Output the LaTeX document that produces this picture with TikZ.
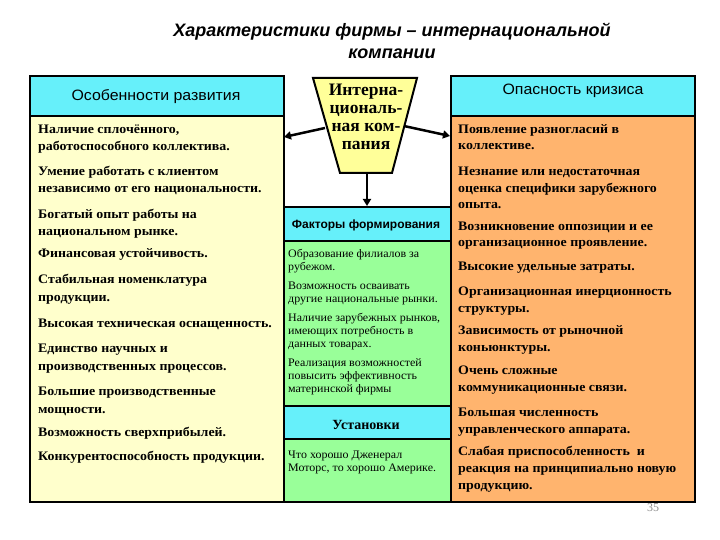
\documentclass[tikz,border=0pt]{standalone}
\usepackage{fontspec}
\setmainfont{Liberation Serif}
\setsansfont{Liberation Sans}
\newfontfamily\wideserif[FakeStretch=1.07]{Liberation Serif}
\newfontfamily\midserif[FakeStretch=1.04]{Liberation Serif}
\newfontfamily\widesans[FakeStretch=1.06]{Liberation Sans}
\usetikzlibrary{arrows.meta}
\definecolor{hdr}{RGB}{102,240,250}
\definecolor{ylw}{RGB}{255,255,204}
\definecolor{trap}{RGB}{255,255,153}
\definecolor{grn}{RGB}{153,255,153}
\definecolor{org}{RGB}{255,180,110}
\begin{document}
\begin{tikzpicture}[x=1pt,y=-1pt,
  panel/.style={draw=black, line width=2pt, anchor=north west, inner sep=0pt, outer sep=0pt},
  bodytxt/.style={anchor=base west, inner sep=0pt, align=left, font=\wideserif\fontsize{13}{17.5}\selectfont\bfseries},
  rbodytxt/.style={anchor=base west, inner sep=0pt, align=left, font=\wideserif\fontsize{13}{16.8}\selectfont\bfseries},
  midtxt/.style={anchor=base west, inner sep=0pt, align=left, font=\midserif\fontsize{11.5}{12.8}\selectfont},
  hdrtxt/.style={inner sep=0pt, font=\widesans\fontsize{15}{17}\selectfont},
  arr/.style={line width=2.5pt, -{Triangle[length=7pt,width=8pt]}}
]
\useasboundingbox (0,0) rectangle (720,540);

% title
\node[align=center, font=\sffamily\bfseries\itshape\fontsize{18}{22}\selectfont] (title) at (392,41)
  {Характеристики фирмы – интернациональной\\компании};

% panels
\node[panel, fill=hdr, minimum width=254pt, minimum height=40pt] (lhead) at (30,76) {};
\node[panel, fill=ylw, minimum width=254pt, minimum height=386pt] (lbody) at (30,116) {};
\node[panel, fill=hdr, minimum width=244pt, minimum height=40pt] (rhead) at (451,76) {};
\node[panel, fill=org, minimum width=244pt, minimum height=386pt] (rbody) at (451,116) {};
\node[panel, fill=hdr, minimum width=167pt, minimum height=34pt] (fhead) at (284,207) {};
\node[panel, fill=grn, minimum width=167pt, minimum height=165pt] (fbody) at (284,241) {};
\node[panel, fill=hdr, minimum width=167pt, minimum height=33pt] (uhead) at (284,406) {};
\node[panel, fill=grn, minimum width=167pt, minimum height=63pt] (ubody) at (284,439) {};

% header texts
\node[hdrtxt] (lht) at (156,97) {Особенности развития};
\node[hdrtxt] (rht) at (573,91) {Опасность кризиса};
\node[inner sep=0pt, font=\sffamily\bfseries\fontsize{12}{14}\selectfont] (fht) at (366,225) {Факторы формирования};
\node[inner sep=0pt, font=\bfseries\fontsize{14}{16}\selectfont] (uht) at (366,425) {Установки};

% trapezoid
\coordinate (ttl) at (313,78);
\coordinate (ttr) at (417,78);
\coordinate (tbr) at (392,173);
\coordinate (tbl) at (340,173);
\draw[line width=2pt, fill=trap] (ttl) -- (ttr) -- (tbr) -- (tbl) -- cycle;
\node[align=center, inner sep=0pt, font=\bfseries\fontsize{17.5}{18}\selectfont] (ic) at (366,117)
  {Интерна-\\циональ-\\ная ком-\\пания};

% arrows
\coordinate (aLs) at (325,128);
\coordinate (aLe) at (284,137);
\coordinate (aRs) at (404,126);
\coordinate (aRe) at (450,136);
\coordinate (aDs) at (367,173);
\coordinate (aDe) at (367,206);
\draw[arr] (aLs) -- (aLe);
\draw[arr] (aRs) -- (aRe);
\draw[arr] (aDs) -- (aDe);

% left texts (positions = baseline of last line)
\node[bodytxt] (l1) at (38,151) {Наличие сплочённого,\\работоспособного коллектива.};
\node[bodytxt] (l2) at (38,193) {Умение работать с клиентом\\независимо от его национальности.};
\node[bodytxt] (l3) at (38,236) {Богатый опыт работы на\\национальном рынке.};
\node[bodytxt] (l4) at (38,258) {Финансовая устойчивость.};
\node[bodytxt] (l5) at (38,301) {Стабильная номенклатура\\продукции.};
\node[bodytxt] (l6) at (38,327) {Высокая техническая оснащенность.};
\node[bodytxt] (l7) at (38,370) {Единство научных и\\производственных процессов.};
\node[bodytxt] (l8) at (38,413) {Большие производственные\\мощности.};
\node[bodytxt] (l9) at (38,436) {Возможность сверхприбылей.};
\node[bodytxt] (l10) at (38,460) {Конкурентоспособность продукции.};

% right texts
\node[rbodytxt] (r1) at (458,150) {Появление разногласий в\\коллективе.};
\node[rbodytxt] (r2) at (458,209) {Незнание или недостаточная\\оценка специфики зарубежного\\опыта.};
\node[rbodytxt] (r3) at (458,247) {Возникновение оппозиции и ее\\организационное проявление.};
\node[rbodytxt] (r4) at (458,270) {Высокие удельные затраты.};
\node[rbodytxt] (r5) at (458,312) {Организационная инерционность\\структуры.};
\node[rbodytxt] (r6) at (458,351) {Зависимость от рыночной\\коньюнктуры.};
\node[rbodytxt] (r7) at (458,391) {Очень сложные\\коммуникационные связи.};
\node[rbodytxt] (r8) at (458,433) {Большая численность\\управленческого аппарата.};
\node[rbodytxt] (r9) at (458,489) {Слабая приспособленность~ и\\реакция на принципиально новую\\продукцию.};

% middle texts
\node[midtxt] (m1) at (288,270) {Образование филиалов за\\рубежом.};
\node[midtxt] (m2) at (288,302) {Возможность осваивать\\другие национальные рынки.};
\node[midtxt] (m3) at (288,347) {Наличие зарубежных рынков,\\имеющих потребность в\\данных товарах.};
\node[midtxt] (m4) at (288,392) {Реализация возможностей\\повысить эффективность\\материнской фирмы};
\node[midtxt] (m5) at (288,471) {Что хорошо Дженерал\\Моторс, то хорошо Америке.};

% page number
\node[inner sep=0pt, text=black!45, font=\fontsize{12}{14}\selectfont] (pg) at (653,508) {35};
\end{tikzpicture}
\end{document}
